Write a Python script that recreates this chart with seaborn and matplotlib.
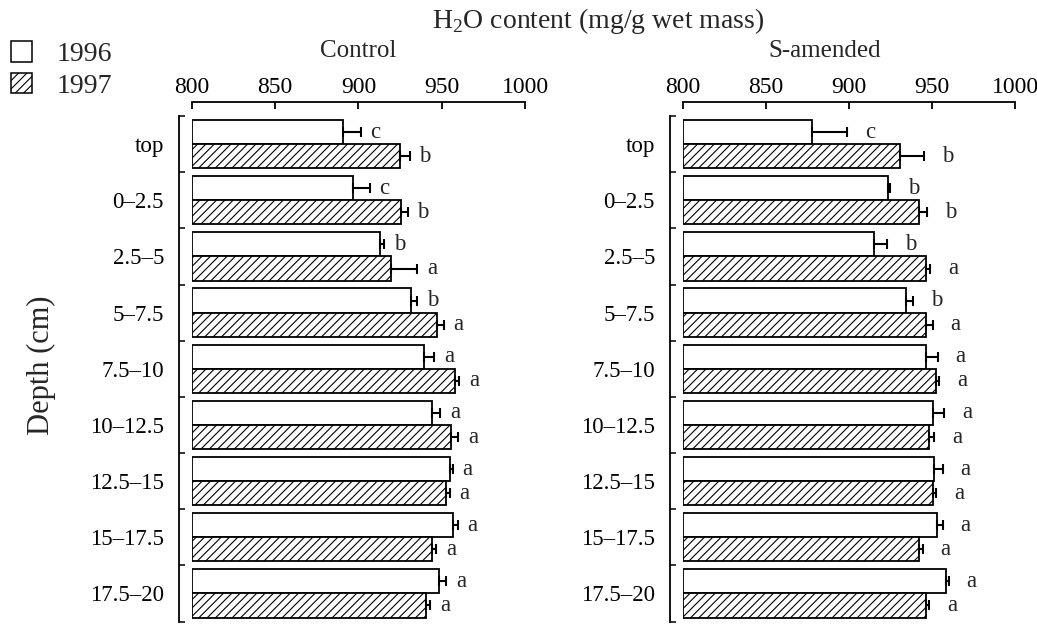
import seaborn as sns
import matplotlib.pyplot as plt
import numpy as np
import pandas as pd
from matplotlib.patches import Patch
from matplotlib.ticker import FixedLocator

# depth classes (cm), top to bottom
depths = ["top", "0–2.5", "2.5–5", "5–7.5", "7.5–10", "10–12.5",
          "12.5–15", "15–17.5", "17.5–20"]
years = ["1996", "1997"]

# H2O content (mg/g wet mass)
control_1996 = [890.5, 896.5, 913.0, 931.5, 939.1, 944.1, 954.8, 956.6, 948.4]
control_1996_err = [10.9, 10.4, 2.4, 3.6, 6.4, 5.0, 1.8, 3.0, 4.2]
control_1997 = [924.7, 925.6, 919.4, 947.2, 958.2, 955.8, 952.8, 944.3, 940.7]
control_1997_err = [6.0, 4.0, 16.0, 4.0, 2.4, 4.0, 2.0, 2.3, 2.4]
control_1996_sig = ["c", "c", "b", "b", "a", "a", "a", "a", "a"]
control_1997_sig = ["b", "b", "a", "a", "a", "a", "a", "a", "a"]

samended_1996 = [877.8, 923.7, 915.3, 934.2, 946.2, 950.4, 951.4, 953.2, 958.4]
samended_1996_err = [20.9, 1.0, 7.4, 4.6, 7.2, 6.8, 5.0, 3.2, 1.6]
samended_1997 = [930.7, 942.2, 946.4, 946.4, 952.4, 948.2, 950.8, 942.4, 946.4]
samended_1997_err = [14.4, 5.0, 2.4, 4.0, 2.0, 3.0, 1.6, 2.0, 2.0]
samended_1996_sig = ["c", "b", "b", "b", "a", "a", "a", "a", "a"]
samended_1997_sig = ["b", "b", "a", "a", "a", "a", "a", "a", "a"]

x_ticks = [800, 850, 900, 950, 1000]

sns.set_theme(style="white")
plt.rcParams["font.family"] = ["Liberation Serif", "DejaVu Serif"]
plt.rcParams["mathtext.fontset"] = "custom"
plt.rcParams["mathtext.rm"] = "Liberation Serif"
plt.rcParams["hatch.linewidth"] = 0.8
FS = 16.5


def draw_panel(ax, vals96, err96, sig96, vals97, err97, sig97, letter_gap):
    df = pd.DataFrame({
        "depth": depths * 2,
        "value": vals96 + vals97,
        "year": ["1996"] * len(depths) + ["1997"] * len(depths),
    })
    sns.barplot(data=df, y="depth", x="value", hue="year", hue_order=years,
                order=depths, orient="h", palette=["white", "white"],
                edgecolor="black", linewidth=1.3, width=0.86,
                errorbar=None, legend=False, ax=ax)

    xmin = x_ticks[0]
    for cont, vals, errs, sigs, hatch in zip(
            ax.containers, [vals96, vals97], [err96, err97], [sig96, sig97], ["", "////"]):
        ys = [p.get_y() + p.get_height() / 2 for p in cont]
        for p in cont:
            # bars start at the axis origin (800) so their left edges show
            p.set_width(p.get_width() - xmin)
            p.set_x(xmin)
            p.set_hatch(hatch)
        ax.errorbar(vals, ys, xerr=[np.zeros(len(errs)), errs], fmt="none",
                    ecolor="black", elinewidth=1.5, capsize=3.5, capthick=1.5)
        for v, e, y, s in zip(vals, errs, ys, sigs):
            ax.annotate(s, xy=(v + e, y), xytext=(letter_gap, 0),
                        textcoords="offset points", va="center", ha="left",
                        fontsize=FS)

    ax.set_xlim(800, 1000)
    ax.set_ylim(len(depths) - 0.5, -0.5)
    ax.set_xlabel("")
    ax.set_ylabel("")
    ax.xaxis.tick_top()
    ax.set_xticks(x_ticks)
    ax.tick_params(axis="x", direction="in", length=5, width=1.3, pad=3,
                   labelsize=17, colors="black")
    ax.yaxis.set_minor_locator(FixedLocator(np.arange(len(depths) + 1) - 0.5))
    ax.tick_params(axis="y", which="minor", direction="in", length=4, width=1.3,
                   left=True)
    ax.tick_params(axis="y", which="major", length=0, pad=11, labelsize=FS,
                   colors="black")
    for side in ["right", "bottom"]:
        ax.spines[side].set_visible(False)
    ax.spines["top"].set_position(("outward", 10))
    ax.spines["top"].set_bounds(800, 1000)
    ax.spines["left"].set_position(("outward", 9))
    for side in ["top", "left"]:
        ax.spines[side].set_color("black")
        ax.spines[side].set_linewidth(1.3)


fig = plt.figure(figsize=(10.37, 6.24), dpi=100)
ax1 = fig.add_axes([0.1849, 0.004, 0.3214, 0.810])
ax2 = fig.add_axes([0.6583, 0.004, 0.3205, 0.810])

draw_panel(ax1, control_1996, control_1996_err, control_1996_sig,
           control_1997, control_1997_err, control_1997_sig, letter_gap=7)
draw_panel(ax2, samended_1996, samended_1996_err, samended_1996_sig,
           samended_1997, samended_1997_err, samended_1997_sig, letter_gap=13)

fig.text(0.577, 0.966, "H$_2$O content (mg/g wet mass)", ha="center", va="center",
         fontsize=20)
fig.text(0.1849 + 0.3214 / 2, 0.918, "Control", ha="center", va="center", fontsize=18)
fig.text(0.7956, 0.918, "S-amended", ha="center", va="center", fontsize=18)
fig.text(0.04, 0.415, "Depth (cm)", rotation=90, ha="center", va="center", fontsize=22)

handles = [Patch(facecolor="white", edgecolor="black", linewidth=1.1),
           Patch(facecolor="white", edgecolor="black", linewidth=1.1, hatch="////")]
fig.legend(handles, years, loc="upper left", bbox_to_anchor=(-0.008, 0.965),
           frameon=False, fontsize=20, handlelength=0.75, handleheight=0.75,
           handletextpad=0.9, labelspacing=0.2, borderaxespad=0.3)

fig.savefig("out.png", dpi=100)
